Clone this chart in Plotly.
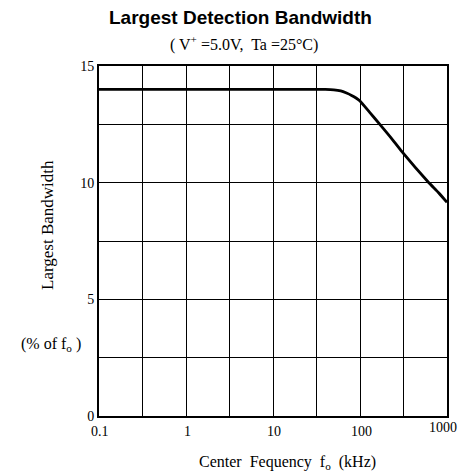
import math
import plotly.graph_objects as go

# Data
freq_khz = [0.1, 1, 10, 40, 50, 60, 70, 80, 90, 100, 130, 169, 230, 300, 601, 800, 1000]
bandwidth = [14.0, 14.0, 14.0, 14.0, 13.98, 13.93, 13.84, 13.74, 13.63, 13.5, 13.0, 12.5, 11.9, 11.35, 10.05, 9.57, 9.16]

x_gridvals = [0.1, 0.316, 1, 3.16, 10, 31.6, 100, 316, 1000]
x_labelvals = [0.1, 1, 10, 100, 1000]
x_labeltext = ["0.1", "1", "10", "100", "1000"]
y_tickvals = [0, 2.5, 5, 7.5, 10, 12.5, 15]
y_ticktext = ["0", "", "5", "", "10", "", "15"]

serif = "Liberation Serif, Times New Roman, serif"

# page is offset by the 8px body margin
OFF = 8
W, H = 466 - OFF, 475 - OFF
L, R, T, B = 99 - OFF, 19, 66 - OFF, 59
pw, ph = W - L - R, H - T - B

fig = go.Figure()
fig.add_trace(go.Scatter(x=freq_khz, y=bandwidth, mode="lines",
                         line=dict(color="black", width=2.8, shape="spline", smoothing=0.5),
                         showlegend=False, hoverinfo="skip"))

fig.update_layout(
    template="none",
    width=W, height=H,
    margin=dict(l=L, r=R, t=T, b=B),
    paper_bgcolor="white", plot_bgcolor="white",
    font=dict(family=serif, color="black", size=14),
)
fig.update_xaxes(type="log", range=[-1, 3], tickvals=x_gridvals, showticklabels=False,
                 showgrid=True, gridcolor="black", gridwidth=1.2,
                 showline=True, linecolor="black", linewidth=2, mirror=True,
                 ticks="", ticklen=0, zeroline=False, automargin=False)
fig.update_yaxes(range=[0, 15], tickvals=y_tickvals, ticktext=y_ticktext,
                 showgrid=True, gridcolor="black", gridwidth=1.2,
                 showline=True, linecolor="black", linewidth=2, mirror=True,
                 ticks="", ticklen=0, zeroline=False, automargin=False,
                 tickfont=dict(family=serif, size=14))


def px_ann(text, x, y, size, family=serif, angle=0):
    # x, y given in page pixels
    fx, fy = x - OFF, y - OFF
    return dict(text=text, x=(fx - L) / pw, y=(H - B - fy) / ph, xref="paper", yref="paper",
                xanchor="center", yanchor="middle", showarrow=False, textangle=angle,
                font=dict(family=family, size=size, color="black"))


annotations = [
    px_ann("<b>Largest Detection Bandwidth</b>", 240, 17, 19,
           family="Liberation Sans, Arial, sans-serif"),
    px_ann("( V<sup>+</sup> =5.0V,  Ta =25°C)", 244, 44, 16),
    px_ann("Largest Bandwidth", 47, 225, 17, angle=-90),
    px_ann("(% of f<sub>o</sub> )", 51, 344, 16),
    px_ann("Center  Fequency  f<sub>o</sub>  (kHz)", 287, 462, 16),
]
# x tick labels placed on the log axis
for v, t in zip(x_labelvals, x_labeltext):
    shift = -4 if v == 1000 else 1
    yshift = 4 if v == 1000 else 0
    annotations.append(dict(text=t, x=math.log10(v), xref="x", y=0, yref="paper",
                            yanchor="top", xanchor="center", xshift=shift, yshift=-6 + yshift,
                            showarrow=False, font=dict(family=serif, size=14, color="black")))
fig.update_layout(annotations=annotations)

fig.write_html("out.html")
